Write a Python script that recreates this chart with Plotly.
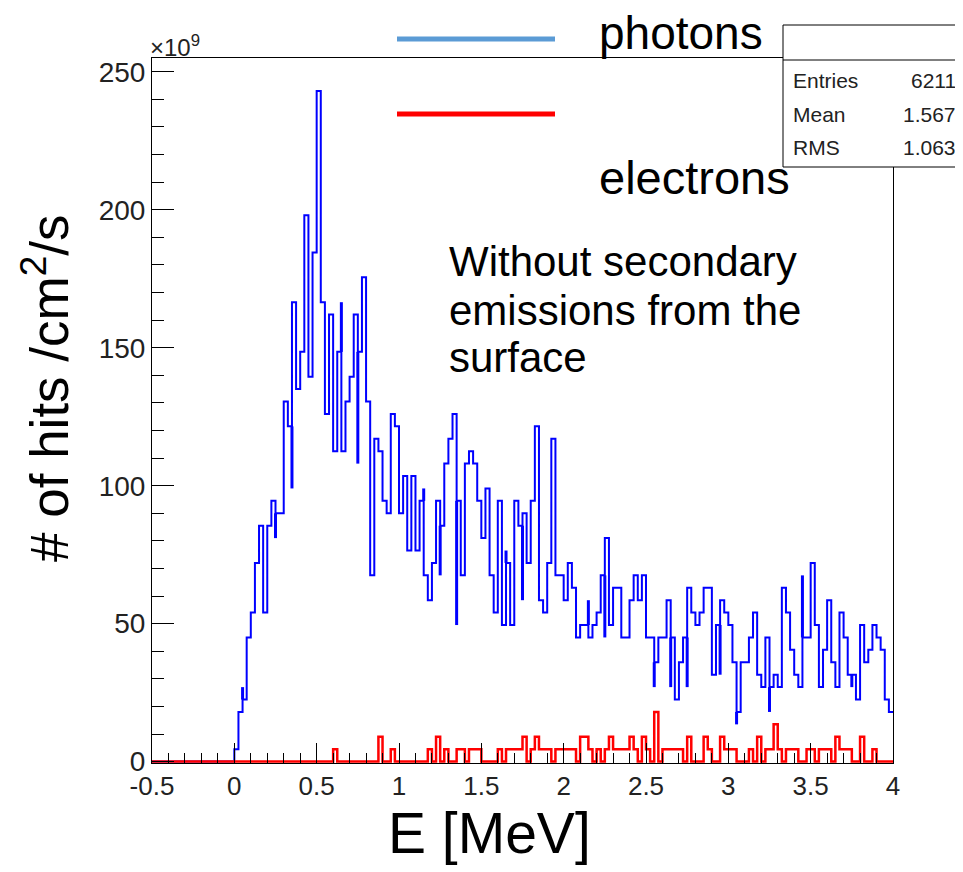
import plotly.graph_objects as go

# ---------------- data (values in units of 1e9 hits/cm^2/s) ----------------
x_min, x_max = -0.5, 4.0
bin_start = 0.0
bin_width = 0.025

photons = [
    4.5, 18, 22.5, 45, 54, 72, 85.5, 54, 85.5, 94.5,
    90, 90, 130.5, 121.5, 166.5, 135, 148.5, 198, 139.5, 184.5,
    243, 166.5, 126, 162, 112.5, 148.5, 112.5, 130.5, 139.5, 162,
    148.5, 175.5, 130.5, 67.5, 117, 112.5, 94.5, 90, 126, 121.5,
    90, 103.5, 76.5, 103.5, 76.5, 94.5, 67.5, 58.5, 72, 94.5,
    85.5, 108, 117, 126, 94.5, 67.5, 108, 112.5, 108, 94.5,
    81, 99, 67.5, 54, 94.5, 49.5, 72, 49.5, 94.5, 85.5,
    90, 72, 94.5, 121.5, 58.5, 54, 72, 117, 67.5, 67.5,
    58.5, 72, 63, 45, 49.5, 49.5, 45, 49.5, 54, 67.5,
    81, 49.5, 63, 63, 45, 45, 58.5, 67.5, 58.5, 67.5,
    45, 45, 36, 45, 45, 58.5, 45, 22.5, 36, 45,
    63, 54, 49.5, 54, 63, 63, 31.5, 49.5, 58.5, 54,
    49.5, 36, 18, 36, 36, 45, 54, 31.5, 27, 45,
    27, 31.5, 27, 63, 54, 40.5, 31.5, 27, 45, 45,
    72, 49.5, 27, 40.5, 58.5, 36, 27, 54, 45, 31.5,
    31.5, 22.5, 49.5, 36, 40.5, 49.5, 45, 40.5, 22.5, 18,
]

electrons = [
    0, 0, 0, 0, 0, 0, 0, 0, 0, 0,
    0, 0, 0, 0, 0, 0, 0, 0, 0, 0,
    0, 0, 0, 0, 4.5, 0, 0, 0, 0, 0,
    0, 0, 0, 0, 0, 9, 0, 0, 4.5, 0,
    0, 0, 0, 0, 0, 0, 0, 4.5, 0, 9,
    0, 4.5, 0, 0, 4.5, 4.5, 0, 4.5, 4.5, 4.5,
    0, 0, 0, 0, 4.5, 0, 4.5, 4.5, 4.5, 4.5,
    9, 0, 4.5, 9, 4.5, 4.5, 4.5, 0, 4.5, 4.5,
    4.5, 4.5, 4.5, 0, 9, 9, 4.5, 0, 4.5, 0,
    4.5, 9, 4.5, 4.5, 4.5, 4.5, 9, 4.5, 0, 9,
    4.5, 0, 18, 0, 4.5, 4.5, 4.5, 4.5, 4.5, 0,
    9, 0, 0, 0, 9, 4.5, 0, 0, 9, 4.5,
    4.5, 4.5, 0, 0, 0, 4.5, 0, 9, 0, 4.5,
    4.5, 13.5, 4.5, 0, 4.5, 4.5, 4.5, 0, 0, 4.5,
    4.5, 0, 4.5, 4.5, 4.5, 0, 9, 4.5, 4.5, 4.5,
    0, 0, 9, 0, 0, 4.5, 0, 0, 0, 0,
]

# narrow spikes drawn at bin boundaries in the photon histogram
spike_E = [0.05, 0.25, 0.35, 0.65, 0.75, 1.15, 1.25, 1.35, 1.65, 1.75,
           2.15, 2.25, 2.55, 2.65, 2.75, 2.95, 3.05, 3.25, 3.45, 3.75]
spike_from = [22.5, 90, 121.5, 148.5, 148.5, 94.5, 85.5, 94.5, 72, 85.5,
              49.5, 67.5, 36, 45, 45, 49.5, 18, 27, 45, 31.5]
spike_to = [27, 81, 99, 166.5, 108, 99, 67.5, 49.5, 76.5, 58.5,
            58.5, 45, 27, 27, 27, 31.5, 13.5, 18, 67.5, 27]

x_ticks = [-0.5, 0, 0.5, 1, 1.5, 2, 2.5, 3, 3.5, 4]
x_ticklabels = ["-0.5", "0", "0.5", "1", "1.5", "2", "2.5", "3", "3.5", "4"]
y_ticks = [0, 50, 100, 150, 200, 250]
y_ticklabels = ["0", "50", "100", "150", "200", "250"]

stats_labels = ["Entries", "Mean", "RMS"]
stats_values = ["6211", "1.567", "1.063"]
note_lines = ["Without secondary", "emissions from the", "surface"]


def step_xy(vals):
    xs = [x_min] + [bin_start + i * bin_width for i in range(len(vals) + 1)]
    ys = [0] + list(vals) + [vals[-1]]
    return xs, ys


fig = go.Figure()

px_, py_ = step_xy(photons)
fig.add_trace(go.Scatter(x=px_, y=py_, mode="lines", line_shape="hv",
                         line=dict(color="#0000ff", width=2), hoverinfo="skip"))

sx, sy = [], []
for e, a, b in zip(spike_E, spike_from, spike_to):
    sx += [e, e, None]
    sy += [a, b, None]
fig.add_trace(go.Scatter(x=sx, y=sy, mode="lines",
                         line=dict(color="#0000ff", width=3), hoverinfo="skip"))

ex_, ey_ = step_xy(electrons)
fig.add_trace(go.Scatter(x=ex_, y=ey_, mode="lines", line_shape="hv",
                         line=dict(color="#ff0000", width=2.5), hoverinfo="skip"))

# ---------------- layout ----------------
# the page body has an 8px margin; the figure is sized so the plot frame
# lands at page pixels x 152..893, y 58..763
OFF = 8
PL, PR, PT, PB = 152, 893, 58, 763      # plot frame in page pixels
W, H = 963 - OFF, 872 - OFF
L, T = PL - OFF, PT - OFF
R, B = (W + OFF) - PR, (H + OFF) - PB
pw, ph = PR - PL, PB - PT


def pxx(x):
    return (x - PL) / pw


def pxy(y):
    return (PB - y) / ph


fig.update_layout(
    width=W, height=H,
    margin=dict(l=L, r=R, t=T, b=B),
    plot_bgcolor="white", paper_bgcolor="white",
    showlegend=False,
    font=dict(family="Liberation Sans, Arial, sans-serif", color="black"),
)

fig.update_xaxes(
    range=[x_min, x_max], tickvals=x_ticks, ticktext=x_ticklabels,
    ticks="inside", ticklen=20, tickwidth=1, tickcolor="black",
    minor=dict(dtick=0.1, tick0=-0.5, ticks="inside", ticklen=10, tickwidth=1, tickcolor="black"),
    showline=True, linecolor="black", linewidth=1, mirror=True,
    showgrid=False, zeroline=False,
    tickfont=dict(size=26, color="#222222"),
)
fig.update_yaxes(
    range=[-0.5, 255], tickvals=y_ticks, ticktext=y_ticklabels,
    ticks="inside", ticklen=22, tickwidth=1, tickcolor="black",
    minor=dict(dtick=10, tick0=0, ticks="inside", ticklen=12, tickwidth=1, tickcolor="black"),
    showline=True, linecolor="black", linewidth=1, mirror=True,
    showgrid=False, zeroline=False,
    tickfont=dict(size=28, color="#222222"),
)

shapes = []
# legend lines
shapes.append(dict(type="line", xref="paper", yref="paper",
                   x0=pxx(397), x1=pxx(555), y0=pxy(39), y1=pxy(39),
                   line=dict(color="#5b9bd5", width=5)))
shapes.append(dict(type="line", xref="paper", yref="paper",
                   x0=pxx(397), x1=pxx(555), y0=pxy(114), y1=pxy(114),
                   line=dict(color="#ff0000", width=5)))
# stats box
shapes.append(dict(type="rect", xref="paper", yref="paper", layer="above",
                   x0=pxx(783), x1=pxx(975), y0=pxy(167), y1=pxy(25),
                   fillcolor="white", line=dict(color="black", width=1)))
shapes.append(dict(type="line", xref="paper", yref="paper", layer="above",
                   x0=pxx(783), x1=pxx(975), y0=pxy(60), y1=pxy(60),
                   line=dict(color="black", width=1)))
fig.update_layout(shapes=shapes)

ann = []
ann.append(dict(text="E [MeV]", xref="paper", yref="paper", x=pxx(489), y=pxy(833),
                showarrow=False, font=dict(size=57), xanchor="center", yanchor="middle"))
ann.append(dict(text="# of hits /cm<sup>2</sup>/s", xref="paper", yref="paper",
                x=pxx(45), y=pxy(388), textangle=-90, showarrow=False,
                font=dict(size=53), xanchor="center", yanchor="middle"))
ann.append(dict(text="\u00d710<sup>9</sup>", xref="paper", yref="paper", x=pxx(148), y=pxy(46),
                showarrow=False, font=dict(size=24, color="#222222"), xanchor="left", yanchor="middle"))
ann.append(dict(text="photons", xref="paper", yref="paper", x=pxx(597), y=pxy(33),
                showarrow=False, font=dict(size=46), xanchor="left", yanchor="middle"))
ann.append(dict(text="electrons", xref="paper", yref="paper", x=pxx(597), y=pxy(177),
                showarrow=False, font=dict(size=47), xanchor="left", yanchor="middle"))
for line, yy in zip(note_lines, [262, 310, 358]):
    ann.append(dict(text=line, xref="paper", yref="paper",
                    x=pxx(447), y=pxy(yy), showarrow=False, font=dict(size=42),
                    xanchor="left", yanchor="middle"))
row_y = [80, 114, 148]
for lab, val, yy in zip(stats_labels, stats_values, row_y):
    ann.append(dict(text=lab, xref="paper", yref="paper", x=pxx(791), y=pxy(yy),
                    showarrow=False, font=dict(size=21, color="#222222"),
                    xanchor="left", yanchor="middle"))
    ann.append(dict(text=val, xref="paper", yref="paper", x=pxx(958), y=pxy(yy),
                    showarrow=False, font=dict(size=21, color="#222222"),
                    xanchor="right", yanchor="middle"))
fig.update_layout(annotations=ann)

fig.write_html("out.html")
